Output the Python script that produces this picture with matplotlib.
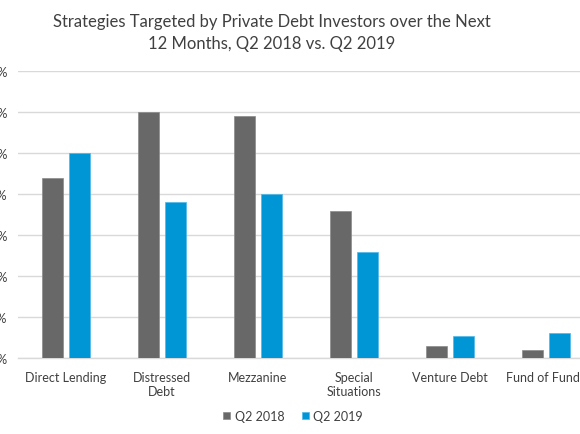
import numpy as np
import matplotlib.pyplot as plt
from matplotlib.ticker import FuncFormatter

# ── Data ────────────────────────────────────────────────────────────────
categories = ["Direct Lending", "Distressed\nDebt", "Mezzanine",
              "Special\nSituations", "Venture Debt", "Fund of Funds"]
q2_2018 = [44, 60, 59, 36, 3, 2]
q2_2019 = [50, 38, 40, 26, 5.5, 6.2]
series_names = ["Q2 2018", "Q2 2019"]
yticks = [0, 10, 20, 30, 40, 50, 60, 70]

# ── Style ───────────────────────────────────────────────────────────────
plt.rcParams["font.family"] = ["Lato", "DejaVu Sans"]
GRAY = "#696868"
BLUE = "#0096d6"
TEXT = "#404040"
GRID = "#d9d9d9"

fig = plt.figure(figsize=(5.8, 4.35), dpi=100, facecolor="white")
# axes deliberately runs past the right edge (the reference is cropped)
ax = fig.add_axes([18 / 580, 75.7 / 435, 576 / 580, 287.3 / 435])

x = np.arange(len(categories))
w = 0.224
gap = 0.06
ax.bar(x - (w + gap) / 2, q2_2018, width=w, color=GRAY, edgecolor="#8a8a8a",
       linewidth=0.5, label=series_names[0], zorder=3)
ax.bar(x + (w + gap) / 2, q2_2019, width=w, color=BLUE, edgecolor="#4fb8e8",
       linewidth=0.5, label=series_names[1], zorder=3)

ax.set_xlim(-0.5, len(categories) - 0.5)
ax.set_ylim(0, 70)
ax.set_yticks(yticks)
ax.yaxis.set_major_formatter(FuncFormatter(lambda v, _: f"{v:.0f}%"))
ax.set_xticks(x)
ax.set_xticklabels(categories)

ax.grid(axis="y", color=GRID, linewidth=1, zorder=0)
ax.set_axisbelow(True)
for side in ["top", "right", "left"]:
    ax.spines[side].set_visible(False)
ax.spines["bottom"].set_color(GRID)
ax.spines["bottom"].set_linewidth(1)
ax.tick_params(axis="both", length=0, labelsize=9, labelcolor=TEXT)
ax.tick_params(axis="y", pad=7.5)
ax.tick_params(axis="x", pad=9.5)

fig.text(272 / 580, 1 - 33 / 435,
         "Strategies Targeted by Private Debt Investors over the Next\n"
         "12 Months, Q2 2018 vs. Q2 2019",
         ha="center", va="center", fontsize=12, color=TEXT, linespacing=1.4)

fig.legend(loc="center", bbox_to_anchor=(293 / 580, 1 - 417 / 435), ncol=2,
           frameon=False, fontsize=9, labelcolor=TEXT, handlelength=0.55,
           handleheight=0.55, handletextpad=0.35, columnspacing=1.4)

plt.savefig("out.png", dpi=100, facecolor="white")
plt.close()
